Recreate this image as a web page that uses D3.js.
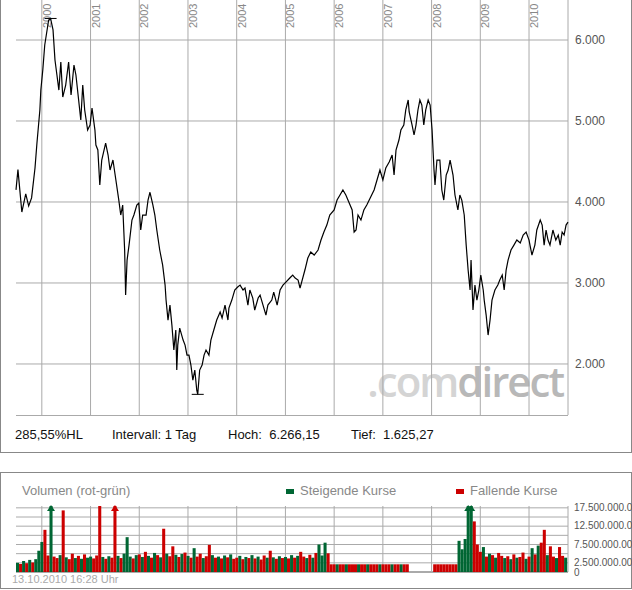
<!DOCTYPE html>
<html>
<head>
<meta charset="utf-8">
<script src="https://cdn.jsdelivr.net/npm/d3@7"></script>
<style>
  body { margin: 0; background: #fff; }
  text { font-family: "Liberation Sans", Arial, sans-serif; }
</style>
</head>
<body>
<svg id="chart" width="632" height="590"></svg>
<script>
// price data (decimal year, index level)
var priceDates = [1999.47,1999.51,1999.59,1999.67,1999.73,1999.79,1999.86,1999.90,1999.96,1999.98,2000.02,2000.06,2000.14,2000.18,2000.23,2000.27,2000.31,2000.35,2000.39,2000.43,2000.49,2000.55,2000.60,2000.66,2000.70,2000.76,2000.80,2000.84,2000.88,2000.94,2000.99,2001.03,2001.09,2001.11,2001.15,2001.19,2001.23,2001.31,2001.36,2001.40,2001.46,2001.52,2001.58,2001.62,2001.66,2001.70,2001.72,2001.75,2001.79,2001.85,2001.89,2001.95,2001.99,2002.03,2002.07,2002.14,2002.18,2002.22,2002.28,2002.32,2002.36,2002.42,2002.48,2002.53,2002.55,2002.59,2002.63,2002.67,2002.71,2002.75,2002.77,2002.79,2002.83,2002.90,2002.94,2002.98,2003.02,2003.06,2003.10,2003.14,2003.18,2003.20,2003.24,2003.29,2003.33,2003.37,2003.43,2003.47,2003.53,2003.59,2003.66,2003.70,2003.76,2003.82,2003.84,2003.90,2003.96,2004.02,2004.07,2004.13,2004.17,2004.23,2004.27,2004.33,2004.37,2004.44,2004.48,2004.54,2004.60,2004.64,2004.72,2004.76,2004.83,2004.89,2004.95,2005.01,2005.09,2005.15,2005.20,2005.26,2005.30,2005.40,2005.46,2005.52,2005.59,2005.67,2005.73,2005.79,2005.85,2005.91,2006.00,2006.06,2006.12,2006.18,2006.24,2006.37,2006.41,2006.45,2006.49,2006.55,2006.61,2006.67,2006.74,2006.82,2006.88,2006.94,2007.00,2007.06,2007.13,2007.19,2007.23,2007.27,2007.33,2007.37,2007.43,2007.47,2007.52,2007.54,2007.60,2007.64,2007.68,2007.72,2007.76,2007.80,2007.84,2007.88,2007.93,2007.97,2008.01,2008.05,2008.07,2008.11,2008.17,2008.21,2008.25,2008.30,2008.34,2008.38,2008.44,2008.48,2008.54,2008.58,2008.62,2008.67,2008.71,2008.75,2008.79,2008.81,2008.85,2008.89,2008.93,2008.97,2009.01,2009.06,2009.08,2009.12,2009.16,2009.20,2009.24,2009.30,2009.36,2009.40,2009.45,2009.49,2009.53,2009.57,2009.63,2009.69,2009.75,2009.82,2009.88,2009.94,2010.00,2010.06,2010.12,2010.16,2010.23,2010.27,2010.31,2010.35,2010.39,2010.43,2010.49,2010.55,2010.60,2010.64,2010.68,2010.72,2010.76,2010.80];
var priceValues = [4150,4400,3876,4100,3950,4050,4419,4728,5136,5382,5630,5938,6247,6266,6124,5753,5568,5382,5728,5296,5444,5728,5321,5691,5568,5234,5012,5444,5136,4888,4950,5160,4888,4703,4642,4209,4518,4728,4580,4395,4518,4271,4024,3839,3962,3407,2851,3283,3468,3777,3839,3962,3987,3654,3839,3839,4024,4120,3962,3839,3654,3407,3221,2974,2789,2542,2727,2480,2172,2419,1925,2233,2443,2295,2233,2110,2110,1986,1801,1925,1678,1625,1925,1986,2110,2172,2110,2295,2419,2542,2641,2567,2727,2542,2690,2789,2913,2950,2974,2913,2937,2727,2913,2814,2666,2814,2851,2727,2604,2727,2789,2888,2727,2913,2974,3011,3061,3098,3061,3036,2937,3160,3308,3382,3345,3407,3530,3629,3715,3839,3901,4024,4086,4148,4086,3901,3629,3654,3839,3777,3901,3962,4049,4148,4271,4395,4271,4419,4493,4580,4333,4642,4765,4888,4950,5136,5259,5111,4950,4827,4950,5136,5259,5197,4950,5136,5259,5197,4888,4395,4209,4518,4518,4148,4024,4333,4395,4518,4333,4086,3901,4086,4024,3839,3468,3160,2913,3283,2666,2974,2789,2913,3098,2913,2789,2604,2357,2542,2789,2913,2974,3036,3098,2913,3160,3283,3407,3468,3530,3493,3592,3629,3530,3345,3468,3654,3777,3715,3468,3654,3530,3468,3654,3530,3592,3468,3629,3592,3715,3752];

var yearTicks = [2000,2001,2002,2003,2004,2005,2006,2007,2008,2009,2010];
var priceTicks = [2000,3000,4000,5000,6000];
var priceTickLabels = ["2.000","3.000","4.000","5.000","6.000"];

// volume in millions, one bar per 1/16 year starting mid 1999
var volStart = 1999.47, volStep = 0.0625;
var volumes = [
  2.5,2.2,3.0,2.4,3.3,2.6,3.5,5.8,
  8.2,11.5,4.5,20,4.2,3.8,4.6,16.8,4.0,3.5,5.0,3.8,4.4,3.6,4.8,3.9,
  4.2,3.7,4.5,18,4.1,3.6,4.3,3.9,20,4.4,3.8,5.0,9.5,4.2,3.7,4.6,
  4.8,4.1,5.5,4.4,3.9,5.2,4.6,4.0,11.8,5.0,4.3,7.0,4.7,4.1,4.9,5.3,
  4.4,3.9,6.5,4.2,5.0,3.8,4.3,7.4,4.6,3.9,4.2,3.7,4.5,4.0,4.8,3.6,
  3.9,4.4,3.5,4.1,3.8,4.6,3.7,4.2,3.4,4.5,3.9,5.8,4.0,3.6,4.3,3.8,
  4.1,3.7,4.6,3.9,4.4,5.5,4.2,3.8,4.7,3.9,5.2,7.5,4.5,8.0,5.1,
  2.1,2.1,2.1,2.1,2.1,2.1,2.1,2.1,2.1,2.1,2.1,2.1,2.1,2.1,2.1,2.1,2.1,2.1,2.1,2.1,2.1,2.1,2.1,2.1,2.1,2.1,
  0,0,0,0,0,0,0,0,
  2.1,2.1,2.1,2.1,2.1,2.1,2.1,2.1,
  8.5,6.2,9.0,20,20,13.8,7.5,
  5.5,6.8,4.2,5.0,4.6,3.9,5.2,4.4,
  3.8,4.3,3.5,4.8,3.9,4.1,5.3,3.6,
  4.2,6.5,4.8,7.2,8.0,11.5,4.6,7.0,
  4.2,3.8,6.8,4.4,3.9
];
var volUp =
  "grgrgrgg" +
  "grrgrrgrgrrgrgrg" +
  "grrrgrgrrgrgggrg" +
  "rgrgrgrgrgrrgrgr" +
  "grgrrgrrgrgrgrgr" +
  "rgrgrgrgrrgrgrgr" +
  "grgrgrrgrgrgggr" +
  "rrgrrgrrrgrrgrrrgrrrgrrgrr" +
  "rrrrrrrr" +
  "rrrrrrrr" +
  "gggggrr" +
  "rgrgrgrr" +
  "grgrgrrg" +
  "rgrgrrgr" +
  "rgrrg";
var volTicks = [2.5,7.5,12.5,17.5];
var volTickLabels = ["2.500.000.000","7.500.000.000","12.500.000.000","17.500.000.000"];

var svg = d3.select("#chart");
var gridColor = "#aaaaaa";
var green = "#006633", red = "#cc0000";

// ---- price panel ----
var x = d3.scaleLinear().domain([1999.47, 2010.8]).range([16, 568]);
var y = d3.scaleLinear().domain([1370, 6000]).range([415, 40]);

svg.append("rect").attr("x", 0.5).attr("y", -2).attr("width", 631).attr("height", 454.5)
  .attr("fill", "none").attr("stroke", "#888");

// watermark
var wm = svg.append("text").attr("x", 563).attr("y", 397).attr("text-anchor", "end")
  .style("font-family", "'Open Sans', sans-serif").style("font-size", "42px")
  .style("font-weight", "600").style("letter-spacing", "-2px");
wm.append("tspan").attr("fill", "#d4d4d4").text(".com");
wm.append("tspan").attr("fill", "#b8b8b8").text("direct");

svg.append("g").selectAll("line").data(priceTicks).join("line")
  .attr("x1", 16).attr("x2", 568).attr("y1", d => y(d)).attr("y2", d => y(d))
  .attr("stroke", gridColor);
svg.append("g").selectAll("line").data(yearTicks.concat([2010.8])).join("line")
  .attr("x1", d => x(d)).attr("x2", d => x(d)).attr("y1", 0).attr("y2", 415)
  .attr("stroke", gridColor);
svg.append("line").attr("x1", 16).attr("x2", 568).attr("y1", 415.5).attr("y2", 415.5).attr("stroke", gridColor);

svg.append("g").selectAll("text").data(yearTicks).join("text")
  .attr("transform", d => "translate(" + (x(d) + 9) + ",28) rotate(-90)")
  .attr("fill", "#888").style("font-size", "11px").text(d => d);

svg.append("g").selectAll("text").data(priceTicks).join("text")
  .attr("x", 575).attr("y", d => y(d) + 4).attr("fill", "#555").style("font-size", "12px")
  .text((d, i) => priceTickLabels[i]);

var line = d3.line().x(d => x(d[0])).y(d => y(d[1]));
svg.append("path").datum(priceDates.map((d, i) => [d, priceValues[i]]))
  .attr("d", line).attr("fill", "none").attr("stroke", "#000").attr("stroke-width", 1.2);

// high / low markers
var hiI = priceValues.indexOf(d3.max(priceValues)), loI = priceValues.indexOf(d3.min(priceValues));
[hiI, loI].forEach(i => {
  svg.append("line").attr("x1", x(priceDates[i]) - 6).attr("x2", x(priceDates[i]) + 6)
    .attr("y1", y(priceValues[i])).attr("y2", y(priceValues[i])).attr("stroke", "#000");
});

var info = [["285,55%HL", 15], ["Intervall: 1 Tag", 112], ["Hoch:  6.266,15", 228], ["Tief:  1.625,27", 351]];
svg.append("g").selectAll("text").data(info).join("text")
  .attr("x", d => d[1]).attr("y", 439).style("font-size", "13px").attr("fill", "#111")
  .attr("xml:space", "preserve").text(d => d[0]);

// ---- volume panel ----
svg.append("rect").attr("x", 0.5).attr("y", 472.5).attr("width", 631).attr("height", 116)
  .attr("fill", "none").attr("stroke", "#888");

var yv = d3.scaleLinear().domain([0, 18]).range([572, 506]);
svg.append("g").selectAll("line").data(d3.range(2.5, 18, 2.5)).join("line")
  .attr("x1", 16).attr("x2", 568).attr("y1", d => yv(d)).attr("y2", d => yv(d))
  .attr("stroke", gridColor);
svg.append("g").selectAll("line").data(yearTicks.concat([2010.8])).join("line")
  .attr("x1", d => x(d)).attr("x2", d => x(d)).attr("y1", 506).attr("y2", 572)
  .attr("stroke", gridColor);
svg.append("line").attr("x1", 16).attr("x2", 568).attr("y1", 572).attr("y2", 572)
  .attr("stroke", gridColor).attr("stroke-width", 2);

var bw = x(volStart + volStep) - x(volStart);
var bars = volumes.map((v, i) => ({ t: volStart + i * volStep, v: v, c: volUp[i] === "g" ? green : red }));
svg.append("g").selectAll("rect").data(bars.filter(d => d.v > 0)).join("rect")
  .attr("x", d => x(d.t)).attr("width", bw)
  .attr("y", d => yv(Math.min(d.v, 18))).attr("height", d => 572 - yv(Math.min(d.v, 18)))
  .attr("fill", d => d.c);
// arrows for bars that leave the scale
svg.append("g").selectAll("path").data(bars.filter(d => d.v > 18)).join("path")
  .attr("d", d => { var cx = x(d.t) + bw / 2; return "M" + (cx - 4) + ",511L" + cx + ",505L" + (cx + 4) + ",511Z"; })
  .attr("fill", d => d.c);

svg.append("g").selectAll("text").data(volTicks).join("text")
  .attr("x", 574).attr("y", d => yv(d) + 3).attr("fill", "#555").style("font-size", "10px")
  .text((d, i) => volTickLabels[i]);
svg.append("text").attr("x", 574).attr("y", 576).attr("fill", "#555").style("font-size", "10px").text("0");

svg.append("text").attr("x", 22).attr("y", 495).attr("fill", "#888").style("font-size", "13px").text("Volumen (rot-grün)");
svg.append("rect").attr("x", 286).attr("y", 489).attr("width", 8).attr("height", 5).attr("fill", green);
svg.append("text").attr("x", 300).attr("y", 495).attr("fill", "#888").style("font-size", "13px").text("Steigende Kurse");
svg.append("rect").attr("x", 456).attr("y", 489).attr("width", 8).attr("height", 5).attr("fill", red);
svg.append("text").attr("x", 470).attr("y", 495).attr("fill", "#888").style("font-size", "13px").text("Fallende Kurse");

svg.append("text").attr("x", 12).attr("y", 583).attr("fill", "#aaa").style("font-size", "11px").text("13.10.2010 16:28 Uhr");
</script>
</body>
</html>
